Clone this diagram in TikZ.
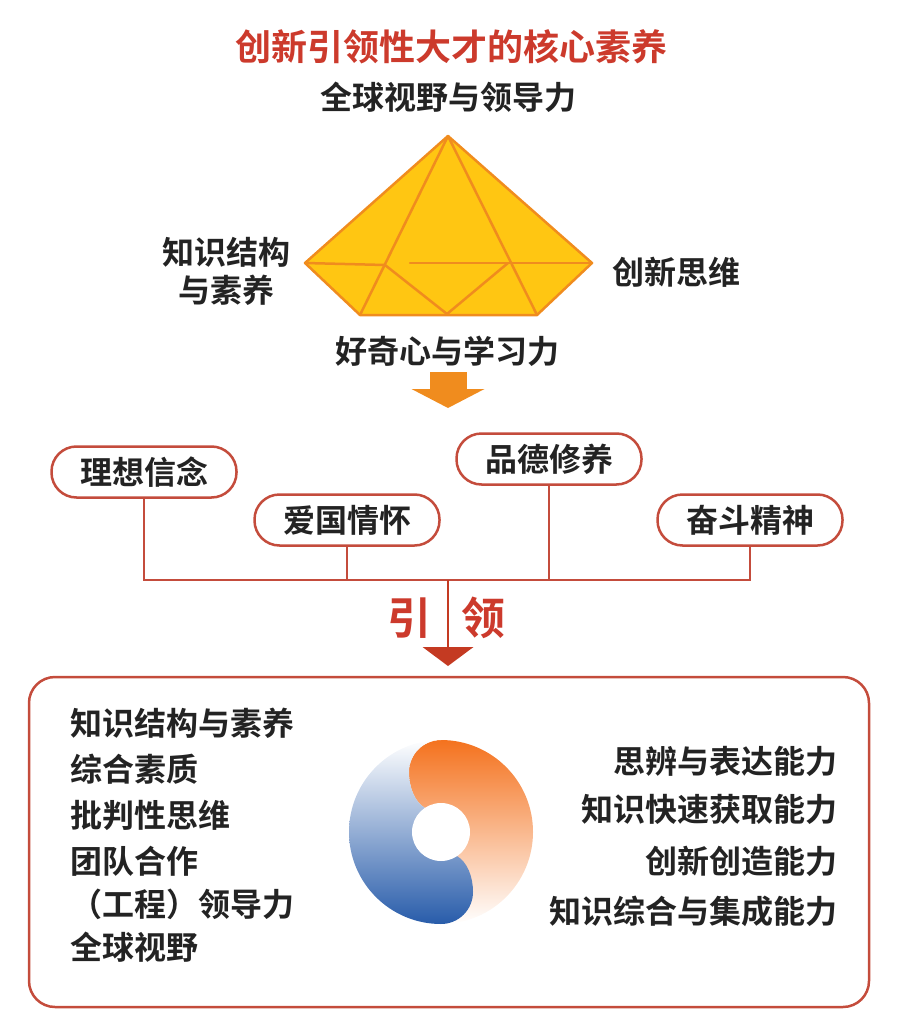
\documentclass[tikz,border=0pt]{standalone}
\usepackage{fontspec}
\setmainfont{Noto Sans CJK SC}[BoldFont={Noto Sans CJK SC Bold}]
\usetikzlibrary{arrows.meta}
\definecolor{titlered}{RGB}{204,58,44}
\definecolor{boxred}{RGB}{196,76,60}
\definecolor{arrowred}{RGB}{196,58,34}
\definecolor{gemfill}{RGB}{255,198,18}
\definecolor{gemline}{RGB}{240,140,30}
\definecolor{arroworange}{RGB}{240,140,30}
\definecolor{textdark}{RGB}{35,35,35}
\definecolor{ringorange}{RGB}{244,114,30}
\definecolor{ringblue}{RGB}{40,92,170}
\tikzstyle{title} = [inner sep=0pt, text=titlered, font=\fontsize{36}{40}\selectfont\bfseries]
\tikzstyle{facet} = [inner sep=0pt, text=textdark, align=center, font=\fontsize{32}{38}\selectfont\bfseries]
\tikzstyle{virtue} = [rectangle, rounded corners=25pt, draw=boxred, line width=2.5pt, fill=white, minimum width=185pt, minimum height=51pt, inner sep=0pt, text=textdark, font=\fontsize{32}{38}\selectfont\bfseries]
\tikzstyle{ability} = [inner sep=0pt, text=textdark, font=\fontsize{32}{38}\selectfont\bfseries]
\tikzstyle{gem} = [draw=gemline, line width=2.5pt, line join=round, line cap=round]

\begin{document}
\begin{tikzpicture}[x=1pt, y=-1pt]
    \useasboundingbox (0,0) rectangle (898,1027);
        % top: core qualities
        \node[title] (T) at (451,47) {创新引领性大才的核心素养};
        \node[facet] (F1) at (448,97) {全球视野与领导力};
        \node[facet] (F2) at (226,271) {知识结构\\与素养};
        \node[facet] (F3) at (676,272) {创新思维};
        \node[facet] (F4) at (447,351) {好奇心与学习力};
        % the gem
        \coordinate (A) at (448,136);
        \coordinate (L) at (305,263);
        \coordinate (R) at (592,263);
        \coordinate (BL) at (360,315);
        \coordinate (BR) at (537,315);
        \coordinate (BM) at (447,314);
        \coordinate (P1) at (385,265);
        \coordinate (P2) at (508,263);
        \coordinate (H) at (410,263);
        \fill[gemfill] (A) -- (L) -- (BL) -- (BR) -- (R) -- cycle;
        \draw[gem] (A) -- (BL);
        \draw[gem] (A) -- (BR);
        \draw[gem] (L) -- (P1) -- (BM) -- (P2);
        \draw[gem] (H) -- (R);
        \draw[gem] (A) -- (L) -- (BL) -- (BR) -- (R) -- cycle;
        % orange arrow
        \coordinate (O1) at (448,372);
        \coordinate (O2) at (448,408);
        \draw[arroworange, line width=37pt, -{Triangle[width=73pt,length=19pt,line width=0pt]}] (O1) -- (O2);
        % virtues
        \node[virtue] (V1) at (144,472) {理想信念};
        \node[virtue] (V2) at (347,520) {爱国情怀};
        \node[virtue] (V3) at (549,459) {品德修养};
        \node[virtue] (V4) at (750,520) {奋斗精神};
        \coordinate (J) at (448,580);
        \coordinate (D) at (448,666);
    \begin{scope}[draw=boxred, line width=2.5pt]
        \draw (V1.south) |- (J);
        \draw (V2.south) |- (J);
        \draw (V3.south) |- (J);
        \draw (V4.south) |- (J);
    \end{scope}
        \draw[arrowred, line width=2.5pt, -{Triangle[width=51pt,length=19pt,line width=0pt]}] (J) -- (D);
        \node[title, font=\fontsize{44}{48}\selectfont\bfseries] (Y1) at (409,618) {引};
        \node[title, font=\fontsize{44}{48}\selectfont\bfseries] (Y2) at (483,618) {领};
        % bottom panel
        \node[draw=boxred, line width=2.5pt, rounded corners=26pt, minimum width=840pt, minimum height=330pt] (P) at (449,842) {};
        \node[ability, anchor=west] (K1) at (70,723) {知识结构与素养};
        \node[ability, anchor=west] (K2) at (70,769) {综合素质};
        \node[ability, anchor=west] (K3) at (70,815) {批判性思维};
        \node[ability, anchor=west] (K4) at (70,861) {团队合作};
        \node[ability, anchor=west] (K5) at (70,904) {（工程）领导力};
        \node[ability, anchor=west] (K6) at (70,947) {全球视野};
        \node[ability, anchor=east] (S1) at (838,761) {思辨与表达能力};
        \node[ability, anchor=east] (S2) at (838,809) {知识快速获取能力};
        \node[ability, anchor=east] (S3) at (838,861) {创新创造能力};
        \node[ability, anchor=east] (S4) at (838,911) {知识综合与集成能力};
        % the ring
    \begin{scope}[shift={(441,832)}, y=1pt]
        \shade[top color=ringorange, middle color=ringorange!62, bottom color=white]
            (0,-92) arc[start angle=-90, end angle=90, radius=92]
            arc[start angle=90, end angle=180, radius=32]
            .. controls (-32,44) and (-26,30) .. (-16,24) -- (0,0) -- cycle;
        \shade[top color=white, middle color=ringblue!42, bottom color=ringblue]
            (0,92) arc[start angle=90, end angle=270, radius=92]
            arc[start angle=-90, end angle=0, radius=32]
            .. controls (32,-44) and (26,-30) .. (16,-24) -- (0,0) -- (-16,24)
            .. controls (-26,30) and (-32,44) .. (-32,60)
            arc[start angle=180, end angle=90, radius=32] -- cycle;
        \fill[white] (0,0) circle[radius=29];
    \end{scope}
    \end{tikzpicture}
\end{document}
